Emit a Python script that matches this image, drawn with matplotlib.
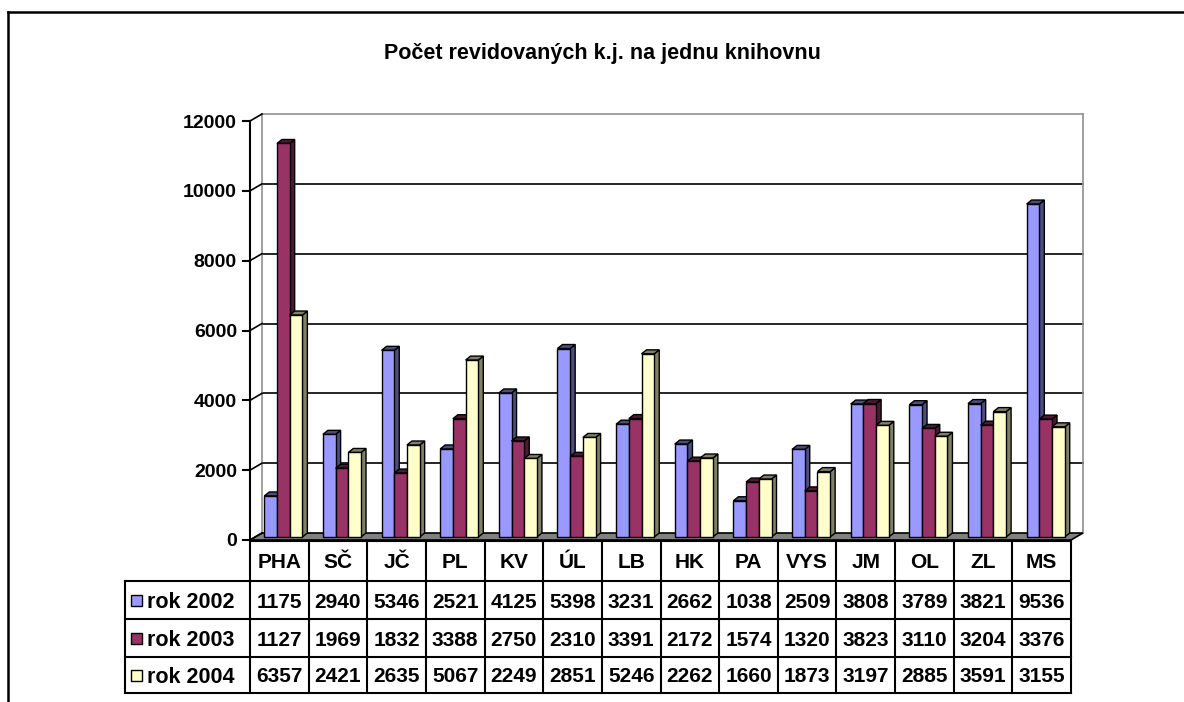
import numpy as np
import matplotlib.pyplot as plt
import matplotlib.transforms as mtransforms
from matplotlib.patches import Polygon, Rectangle
from matplotlib.lines import Line2D

plt.rcParams['font.family'] = ['Liberation Sans', 'DejaVu Sans']
plt.rcParams['font.weight'] = 'bold'

# data
categories = ['PHA', 'SČ', 'JČ', 'PL', 'KV', 'ÚL', 'LB', 'HK', 'PA', 'VYS', 'JM', 'OL', 'ZL', 'MS']
rok_2002 = [1175, 2940, 5346, 2521, 4125, 5398, 3231, 2662, 1038, 2509, 3808, 3789, 3821, 9536]
rok_2003 = [11270, 1969, 1832, 3388, 2750, 2310, 3391, 2172, 1574, 1320, 3823, 3110, 3204, 3376]
rok_2004 = [6357, 2421, 2635, 5067, 2249, 2851, 5246, 2262, 1660, 1873, 3197, 2885, 3591, 3155]
series_names = ['rok 2002', 'rok 2003', 'rok 2004']
yticks = [0, 2000, 4000, 6000, 8000, 10000, 12000]
title = 'Počet revidovaných k.j. na jednu knihovnu'

front_colors = ['#9999FF', '#993366', '#FFFFCC']
side_colors = ['#4D4D80', '#4D1933', '#808066']

W, H = 1184, 702
fig = plt.figure(figsize=(W / 100, H / 100), dpi=100)


def fx(px):
    return px / W


def fy(py):
    return 1 - py / H


def shift(dx, dy):
    return mtransforms.ScaledTranslation(dx / 100, dy / 100, fig.dpi_scale_trans)


ident = mtransforms.IdentityTransform()

ax = fig.add_axes([fx(250), fy(540), fx(1071) - fx(250), fy(121) - fy(540)])
ax.set_xlim(-0.5, len(categories) - 0.5)
ax.set_ylim(0, 12000)
ax.axis('off')

WALL = np.array([12, 7])
BAR = np.array([4, 3])
DEPTH = np.array([5, 4])
wall_tr = ax.transData + shift(*WALL)
bar_tr = ax.transData + shift(*BAR)
x0, x1 = ax.get_xlim()

# floor
fl = ax.transData.transform([(x0, 0), (x1, 0)])
ax.add_patch(Polygon([fl[0], fl[1], fl[1] + WALL, fl[0] + WALL], closed=True,
                     facecolor='#808080', edgecolor='black', lw=1.2,
                     transform=ident, clip_on=False, zorder=2))

# back wall with gridlines
for t in yticks[1:-1]:
    ax.plot([x0, x1], [t, t], color='black', lw=1.2, transform=wall_tr, clip_on=False, zorder=1)
ax.plot([x0, x1], [12000, 12000], color='#909090', lw=1.2, transform=wall_tr, clip_on=False, zorder=1)
ax.plot([x0, x0], [0, 12000], color='#909090', lw=1.2, transform=wall_tr, clip_on=False, zorder=1)
ax.plot([x1, x1], [0, 12000], color='#909090', lw=1.2, transform=wall_tr, clip_on=False, zorder=1)

# side wall diagonals, y axis, ticks and labels
ax.plot([x0, x0], [0, 12000], color='black', lw=1.5, clip_on=False, zorder=3)
for t in yticks:
    p = ax.transData.transform((x0, t))
    ax.add_line(Line2D([p[0], p[0] + WALL[0]], [p[1], p[1] + WALL[1]], color='black', lw=1.2,
                       transform=ident, clip_on=False, zorder=3))
    ax.add_line(Line2D([p[0] - 7, p[0]], [p[1], p[1]], color='black', lw=1.5,
                       transform=ident, clip_on=False, zorder=3))
    ax.text(x0, t, str(t), transform=ax.transData + shift(-13, 0), ha='right', va='center_baseline',
            fontsize=14, fontweight='bold')

# 3D bars
x = np.arange(len(categories))
w = 0.2166
for k, vals in enumerate([rok_2002, rok_2003, rok_2004]):
    xs = x + (k - 1) * w
    bars = ax.bar(xs, vals, width=w, color=front_colors[k], edgecolor='black', linewidth=1,
                  transform=bar_tr, clip_on=False)
    for i, (b, v) in enumerate(zip(bars, vals)):
        base = 10 + i * 10 + k * 3
        b.set_zorder(base + 2)
        bl, br = bar_tr.transform([(xs[i] - w / 2, v), (xs[i] + w / 2, v)])
        r0 = bar_tr.transform((xs[i] + w / 2, 0))
        side = [r0, br, br + DEPTH, r0 + DEPTH]
        top = [bl, br, br + DEPTH, bl + DEPTH]
        for face in (side, top):
            ax.add_patch(Polygon(face, closed=True, facecolor=side_colors[k], edgecolor='black',
                                 lw=1, transform=ident, clip_on=False, zorder=base + 1))

# data table
rows = [541, 581, 619, 657, 693]
tab = mtransforms.blended_transform_factory(ax.transData, fig.transFigure)
for j in range(len(categories) + 1):
    fig.add_artist(Line2D([x0 + j, x0 + j], [fy(rows[0]), fy(rows[-1])], color='black', lw=1.5, transform=tab))
fig.add_artist(Line2D([fx(125), fx(125)], [fy(rows[1]), fy(rows[-1])], color='black', lw=1.5))
fig.add_artist(Line2D([fx(250), fx(1071)], [fy(rows[0]), fy(rows[0])], color='black', lw=1.5))
for r in rows[1:]:
    fig.add_artist(Line2D([fx(125), fx(1071)], [fy(r), fy(r)], color='black', lw=1.5))

for i, c in enumerate(categories):
    fig.text(i, fy((rows[0] + rows[1]) / 2), c, transform=tab, ha='center', va='center_baseline',
             fontsize=15, fontweight='bold')
for k, vals in enumerate([rok_2002, rok_2003, rok_2004]):
    ym = fy((rows[k + 1] + rows[k + 2]) / 2)
    for i, v in enumerate(vals):
        # cell only fits four digits
        fig.text(i, ym, str(v)[:4], transform=tab, ha='center', va='center_baseline',
                 fontsize=15, fontweight='bold')
    fig.add_artist(Rectangle((fx(131), ym - 5.5 / H), 11 / W, 11 / H, facecolor=front_colors[k],
                             edgecolor='black', lw=1, transform=fig.transFigure))
    fig.text(fx(147), ym, series_names[k], ha='left', va='center_baseline', fontsize=15.5, fontweight='bold')

fig.text(fx(602), fy(51), title, ha='center', va='center_baseline', fontsize=15.5, fontweight='bold')

# page frame
fig.add_artist(Line2D([fx(8), 1], [fy(12), fy(12)], color='black', lw=1.8))
fig.add_artist(Line2D([fx(8), fx(8)], [fy(12), 0], color='black', lw=1.8))

fig.savefig('out.png', dpi=100)
